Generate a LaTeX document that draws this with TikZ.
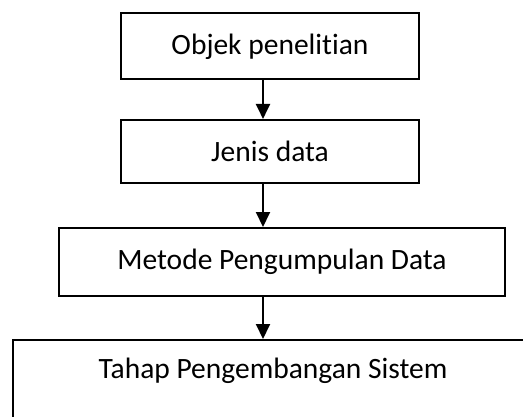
\documentclass[tikz,border=0pt]{standalone}
\usepackage{fontspec}
\setmainfont{Carlito}[Ligatures=CommonOff]
\usetikzlibrary{arrows.meta}
\begin{document}
\begin{tikzpicture}[x=1pt, y=-1pt,
    box/.style={draw, line width=2pt, inner sep=0pt, font=\fontsize{29.5}{35}\selectfont},
    flow/.style={line width=2pt, -{Triangle[width=14pt,length=15pt]}}]
            \clip (0,0) rectangle (523,416);
            \coordinate (ax) at (263,0);
            \node[box, minimum width=298pt, minimum height=66pt] (objek) at (270,46.3) {Objek penelitian};
            \node[box, minimum width=298pt, minimum height=62.7pt] (jenis) at (270,151.3) {Jenis data};
            \node[box, minimum width=446pt, minimum height=68pt] (metode) at (282,262) {Metode Pengumpulan Data};
            \node[box, minimum width=520pt, minimum height=120pt,
                  label={[font=\fontsize{29.5}{35}\selectfont, anchor=center, yshift=-32pt]north:Tahap Pengembangan Sistem}] (tahap) at (273,400) {};
            \draw[flow] (objek.south -| ax) -- (jenis.north -| ax);   % 1
            \draw[flow] (jenis.south -| ax) -- (metode.north -| ax);  % 2
            \draw[flow] (metode.south -| ax) -- (tahap.north -| ax);  % 3
        \end{tikzpicture}
\end{document}
